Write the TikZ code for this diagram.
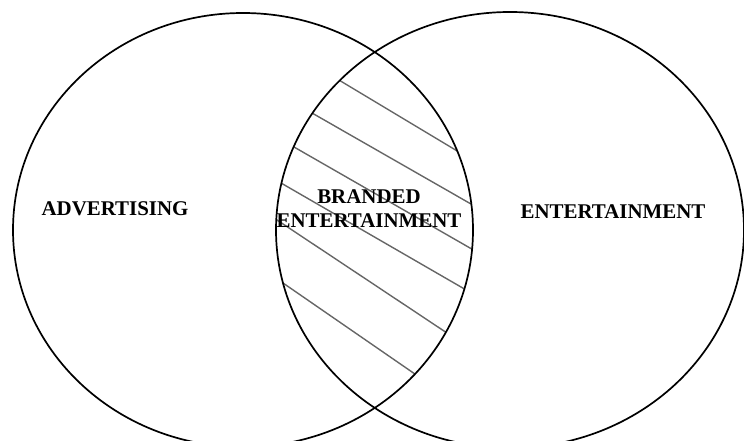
\documentclass[tikz,border=0pt]{standalone}
\usepackage{fontspec}
\setmainfont{Liberation Serif}
\begin{document}
\begin{tikzpicture}[x=1bp,y=-1bp,
  setline/.style={line width=1.7bp,black},
  hatchline/.style={line width=1.4bp,gray!80!black,shorten <=-12bp,shorten >=-12bp},
  lbl/.style={font=\fontsize{21}{24}\selectfont\bfseries,inner sep=0pt,align=center}]
\useasboundingbox (0,0) rectangle (744,441);
\begin{scope}
  \clip (243,230) ellipse [x radius=230, y radius=217];
  \clip (510,230) ellipse [x radius=234, y radius=218];
  \coordinate (a1) at (341.7,81.7);  \coordinate (b1) at (452.7,148.3);
  \coordinate (a2) at (312,113);     \coordinate (b2) at (467.5,202);
  \coordinate (a3) at (294,147);     \coordinate (b3) at (470,248);
  \coordinate (a4) at (281,183);     \coordinate (b4) at (461,287);
  \coordinate (a5) at (277,220);     \coordinate (b5) at (444,331);
  \coordinate (a6) at (283,283);     \coordinate (b6) at (412,372);
  \foreach \i in {1,...,6} { \draw[hatchline] (a\i) -- (b\i); }
\end{scope}
\draw[setline] (243,230) ellipse [x radius=230, y radius=217];
\draw[setline] (510,230) ellipse [x radius=234, y radius=218];
\node[lbl] (adv) at (115,209) {ADVERTISING};
\node[lbl] (brand) at (369,209) {BRANDED\\ENTERTAINMENT};
\node[lbl] (ent) at (613,212) {ENTERTAINMENT};
\end{tikzpicture}
\end{document}
